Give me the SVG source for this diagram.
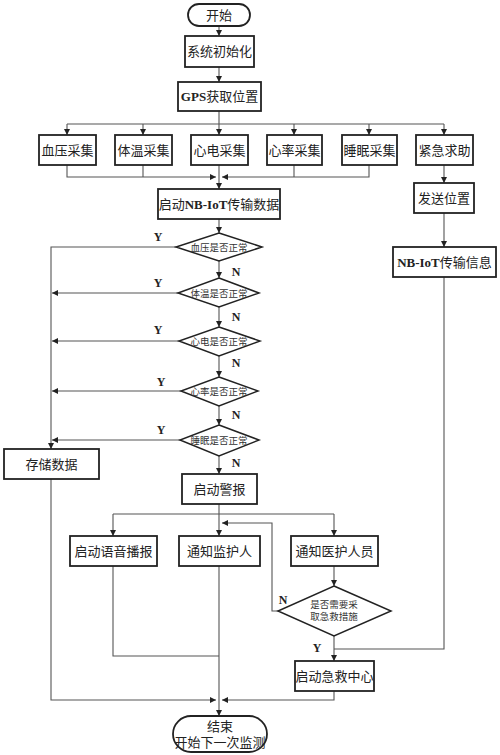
<svg xmlns="http://www.w3.org/2000/svg" width="500" height="755" viewBox="0 0 500 755">
<style>
.box{fill:#fff;stroke:#222;stroke-width:1.8}
.dia{fill:#fff;stroke:#222;stroke-width:1.5}
.ln{fill:none;stroke:#555;stroke-width:1.1}
.t{font-family:"Liberation Serif","Noto Sans CJK SC",serif;font-size:13px;fill:#222;text-anchor:middle}
.b{font-weight:bold}
.d{font-family:"Liberation Serif","Noto Sans CJK SC",serif;font-size:9.5px;fill:#333;text-anchor:middle}
.yn{font-family:"Liberation Serif",serif;font-size:12px;font-weight:bold;fill:#222;text-anchor:middle}
</style>
<defs>
<marker id="a" markerWidth="6" markerHeight="6" refX="6" refY="3" orient="auto" markerUnits="userSpaceOnUse">
<path d="M0,0 L6,3 L0,6 z" fill="#222"/>
</marker>
</defs>
<rect width="500" height="755" fill="#fff"/>
<g id="connectors">
<path class="ln" d="M219,26 V36" marker-end="url(#a)"/>
<path class="ln" d="M219,67 V82" marker-end="url(#a)"/>
<path class="ln" d="M219,111 V124 M67,124 H444"/>
<path class="ln" d="M67,124 V135" marker-end="url(#a)"/>
<path class="ln" d="M143,124 V135" marker-end="url(#a)"/>
<path class="ln" d="M219,124 V135" marker-end="url(#a)"/>
<path class="ln" d="M294,124 V135" marker-end="url(#a)"/>
<path class="ln" d="M369,124 V135" marker-end="url(#a)"/>
<path class="ln" d="M444,124 V135" marker-end="url(#a)"/>
<path class="ln" d="M67,165 V177 H216" marker-end="url(#a)"/>
<path class="ln" d="M143,165 V177"/>
<path class="ln" d="M369,165 V177 H222" marker-end="url(#a)"/>
<path class="ln" d="M294,165 V177"/>
<path class="ln" d="M219,165 V189" marker-end="url(#a)"/>
<path class="ln" d="M444,165 V183" marker-end="url(#a)"/>
<path class="ln" d="M444,213 V247" marker-end="url(#a)"/>
<path class="ln" d="M219,219 V233" marker-end="url(#a)"/>
<path class="ln" d="M176,247 H51 V449" marker-end="url(#a)"/>
<path class="ln" d="M219,261 V278" marker-end="url(#a)"/>
<path class="ln" d="M178,293 H52" marker-end="url(#a)"/>
<path class="ln" d="M219,307 V327" marker-end="url(#a)"/>
<path class="ln" d="M179,341 H52" marker-end="url(#a)"/>
<path class="ln" d="M219,356 V377" marker-end="url(#a)"/>
<path class="ln" d="M181,391 H52" marker-end="url(#a)"/>
<path class="ln" d="M219,406 V425" marker-end="url(#a)"/>
<path class="ln" d="M180,440 H52" marker-end="url(#a)"/>
<path class="ln" d="M219,456 V474" marker-end="url(#a)"/>
<path class="ln" d="M219,504 V514 M113,514 H334"/>
<path class="ln" d="M113,514 V536" marker-end="url(#a)"/>
<path class="ln" d="M219,514 V536" marker-end="url(#a)"/>
<path class="ln" d="M334,514 V536" marker-end="url(#a)"/>
<path class="ln" d="M334,566 V586" marker-end="url(#a)"/>
<path class="ln" d="M278,611 H272 V523 H222" marker-end="url(#a)"/>
<path class="ln" d="M334,636 V661" marker-end="url(#a)"/>
<path class="ln" d="M444,277 V649 H334"/>
<path class="ln" d="M113,566 V656 H219"/>
<path class="ln" d="M219,566 V716" marker-end="url(#a)"/>
<path class="ln" d="M51,479 V700 H216" marker-end="url(#a)"/>
<path class="ln" d="M334,691 V700 H222" marker-end="url(#a)"/>
</g>
<g id="start"><rect class="box" x="188" y="4" width="62" height="22" rx="11"/><text class="t" x="219" y="20">开始</text></g>
<g id="init"><rect class="box" x="185" y="36" width="69" height="31"/><text class="t" x="219.5" y="56">系统初始化</text></g>
<g id="gps"><rect class="box" x="178" y="82" width="83" height="29"/><text class="t" x="219.5" y="101"><tspan class="b">GPS</tspan>获取位置</text></g>
<g id="bp"><rect class="box" x="39" y="135" width="57" height="30"/><text class="t" x="67.5" y="155">血压采集</text></g>
<g id="temp"><rect class="box" x="115" y="135" width="57" height="30"/><text class="t" x="143.5" y="155">体温采集</text></g>
<g id="ecg"><rect class="box" x="191" y="135" width="57" height="30"/><text class="t" x="219.5" y="155">心电采集</text></g>
<g id="hr"><rect class="box" x="267" y="135" width="55" height="30"/><text class="t" x="294.5" y="155">心率采集</text></g>
<g id="sleep"><rect class="box" x="342" y="135" width="55" height="30"/><text class="t" x="369.5" y="155">睡眠采集</text></g>
<g id="sos"><rect class="box" x="416" y="135" width="57" height="30"/><text class="t" x="444.5" y="155">紧急求助</text></g>
<g id="nbdata"><rect class="box" x="158" y="189" width="122" height="30"/><text class="t" x="219" y="209">启动<tspan class="b">NB-IoT</tspan>传输数据</text></g>
<g id="sendpos"><rect class="box" x="414" y="183" width="60" height="30"/><text class="t" x="444" y="203">发送位置</text></g>
<g id="nbinfo"><rect class="box" x="393" y="247" width="103" height="30"/><text class="t" x="444.5" y="267"><tspan class="b">NB-IoT</tspan>传输信息</text></g>
<g id="d1"><polygon class="dia" points="219,233 262,247 219,261 176,247"/><text class="d" x="219" y="250.5">血压是否正常</text></g>
<g id="d2"><polygon class="dia" points="219,278 259,293 219,307 178,293"/><text class="d" x="219" y="296.5">体温是否正常</text></g>
<g id="d3"><polygon class="dia" points="219,327 260,341 219,356 179,341"/><text class="d" x="219" y="344.5">心电是否正常</text></g>
<g id="d4"><polygon class="dia" points="219,377 258,391 219,406 181,391"/><text class="d" x="219" y="394.5">心率是否正常</text></g>
<g id="d5"><polygon class="dia" points="219,425 259,440 219,456 180,440"/><text class="d" x="219" y="443.5">睡眠是否正常</text></g>
<g id="labels">
<text class="yn" x="158" y="241">Y</text>
<text class="yn" x="158" y="287">Y</text>
<text class="yn" x="158" y="334">Y</text>
<text class="yn" x="161" y="386">Y</text>
<text class="yn" x="161" y="434">Y</text>
<text class="yn" x="236" y="276">N</text>
<text class="yn" x="236" y="321">N</text>
<text class="yn" x="236" y="367">N</text>
<text class="yn" x="236" y="419">N</text>
<text class="yn" x="236" y="467">N</text>
<text class="yn" x="283" y="604">N</text>
<text class="yn" x="317" y="652">Y</text>
</g>
<g id="store"><rect class="box" x="4" y="449" width="95" height="30"/><text class="t" x="51.5" y="469">存储数据</text></g>
<g id="alarm"><rect class="box" x="182" y="474" width="75" height="30"/><text class="t" x="219.5" y="494">启动警报</text></g>
<g id="voice"><rect class="box" x="70" y="536" width="87" height="30"/><text class="t" x="113.5" y="556">启动语音播报</text></g>
<g id="guardian"><rect class="box" x="179" y="536" width="81" height="30"/><text class="t" x="219.5" y="556">通知监护人</text></g>
<g id="medic"><rect class="box" x="291" y="536" width="87" height="30"/><text class="t" x="334.5" y="556">通知医护人员</text></g>
<g id="d6"><polygon class="dia" points="334,586 391,611 334,636 278,611"/><text class="d" x="334" y="608">是否需要采</text><text class="d" x="334" y="620">取急救措施</text></g>
<g id="center"><rect class="box" x="295" y="661" width="79" height="30"/><text class="t" x="334.5" y="681">启动急救中心</text></g>
<g id="end"><rect class="box" x="173" y="716" width="94" height="36" rx="18"/><text class="t" x="220" y="731">结束</text><text class="t" x="220" y="747">开始下一次监测</text></g>
</svg>
